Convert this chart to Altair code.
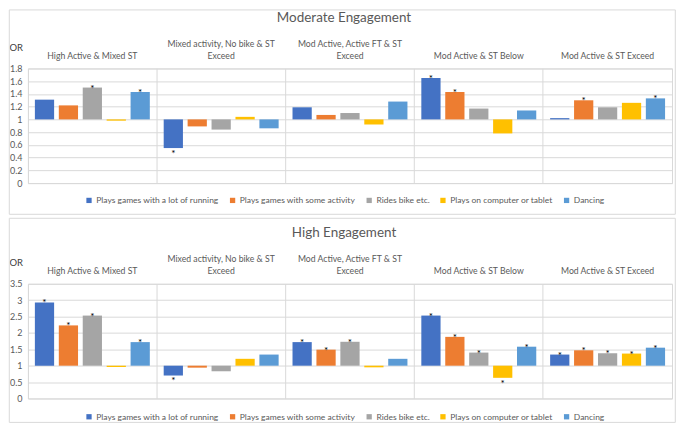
import altair as alt
import pandas as pd

groups = ["High Active & Mixed ST", "Mixed activity, No bike & ST|Exceed",
          "Mod Active, Active FT & ST|Exceed", "Mod Active & ST Below", "Mod Active & ST Exceed"]
series = ["Plays games with a lot of running", "Plays games with some activity",
          "Rides bike etc.", "Plays on computer or tablet", "Dancing"]
colors = ["#4472C4", "#ED7D31", "#A5A5A5", "#FFC000", "#5B9BD5"]

mod_or = [[1.31, 1.22, 1.50, 0.98, 1.43],
          [0.55, 0.89, 0.84, 1.04, 0.86],
          [1.19, 1.07, 1.10, 0.92, 1.28],
          [1.65, 1.43, 1.17, 0.78, 1.14],
          [1.02, 1.30, 1.19, 1.26, 1.33]]
mod_sig = [[0, 0, 1, 0, 1],
           [1, 0, 0, 0, 0],
           [0, 0, 0, 0, 0],
           [1, 1, 0, 0, 0],
           [0, 1, 0, 0, 1]]
high_or = [[2.93, 2.23, 2.53, 0.96, 1.72],
           [0.70, 0.94, 0.83, 1.21, 1.34],
           [1.72, 1.49, 1.73, 0.95, 1.21],
           [2.53, 1.88, 1.40, 0.63, 1.58],
           [1.34, 1.47, 1.38, 1.37, 1.55]]
high_sig = [[1, 1, 1, 0, 1],
            [1, 0, 0, 0, 0],
            [1, 1, 1, 0, 0],
            [1, 1, 1, 1, 1],
            [1, 1, 1, 1, 1]]
mod_ticks = [0, 0.2, 0.4, 0.6, 0.8, 1, 1.2, 1.4, 1.6, 1.8]
high_ticks = [0, 0.5, 1, 1.5, 2, 2.5, 3, 3.5]

FONT = "Lato"
TXT = "#595959"
GRID = "#d9d9d9"
W, H = 646, 115


def panel(title, ors, sig, ticks, ymax, frame_top, frame_bottom, legend_y):
    rows = []
    for g, vals, ss in zip(groups, ors, sig):
        for s, v, k in zip(series, vals, ss):
            rows.append(dict(group=g, series=s, OR=v, base=1.0, sig=k))
    df = pd.DataFrame(rows)
    base = alt.Chart(df)

    x = alt.X("group:N", sort=groups,
              scale=alt.Scale(paddingInner=0, paddingOuter=0),
              axis=alt.Axis(orient="top", title=None,
                            labelExpr="indexof(datum.value, '|') < 0 ? [' ', datum.value] : split(datum.value, '|')",
                            labelAngle=0, ticks=False, domain=False, grid=True, bandPosition=0,
                            gridColor=GRID, labelFont=FONT, labelFontSize=8.7, labelColor=TXT,
                            labelPadding=20, labelLineHeight=12, labelBaseline="bottom"))
    xo = alt.XOffset("series:N", sort=series,
                     scale=alt.Scale(paddingInner=0.196, paddingOuter=0.29))
    y = alt.Y("OR:Q", scale=alt.Scale(domain=[0, ymax], nice=False, zero=True),
              axis=alt.Axis(values=ticks, tickCount=len(ticks) + 2, format=".1~f", title="OR",
                            titleAngle=0, titleX=-19, titleY=-21, titleAlign="left",
                            titleBaseline="middle", titleFont=FONT, titleFontSize=9.5,
                            titleFontWeight="normal", titleColor="#404040", labelFont=FONT,
                            labelFontSize=9, labelColor=TXT, labelPadding=6, labelOverlap=False,
                            ticks=False, domain=False, gridColor=GRID, grid=True))

    bars = base.mark_bar().encode(
        x=x, xOffset=xo, y=y, y2=alt.Y2("base:Q"),
        color=alt.Color("series:N", sort=series,
                        scale=alt.Scale(domain=series, range=colors),
                        legend=alt.Legend(title=None, orient="none", legendX=57, legendY=legend_y,
                                          direction="horizontal", symbolType="square",
                                          symbolSize=28, symbolStrokeWidth=0, labelFont=FONT,
                                          labelFontSize=8.5, labelColor=TXT, columnPadding=9,
                                          labelOffset=3, padding=0)))
    up = base.transform_filter("datum.sig == 1 && datum.OR > 1").mark_text(
        text="*", dy=4, baseline="alphabetic", fontSize=10, font=FONT, color="#000000"
    ).encode(x=x, xOffset=xo, y=alt.Y("OR:Q"))
    dn = base.transform_filter("datum.sig == 1 && datum.OR < 1").mark_text(
        text="*", dy=9, baseline="alphabetic", fontSize=10, font=FONT, color="#000000"
    ).encode(x=x, xOffset=xo, y=alt.Y("OR:Q"))

    ttl = alt.Chart(pd.DataFrame({"t": [title]})).mark_text(
        font=FONT, fontSize=13.5, color=TXT, baseline="middle", align="center"
    ).encode(x=alt.value(W / 2 - 6), y=alt.value(-50.5), text="t:N")

    frame = alt.Chart(pd.DataFrame({"a": [0]})).mark_rect(
        fillOpacity=0, stroke=GRID, strokeWidth=1
    ).encode(x=alt.value(-18.7), x2=alt.value(649.3),
             y=alt.value(frame_top), y2=alt.value(frame_bottom))

    return alt.layer(frame, bars, up, dn, ttl).properties(width=W, height=H)


top = panel("Moderate Engagement", mod_or, mod_sig, mod_ticks, 1.8, -58.7, 146.3, 128)
bottom = panel("High Engagement", high_or, high_sig, high_ticks, 3.5, -65.7, 139, 129)

chart = alt.vconcat(top, bottom, spacing=1).resolve_scale(
    color="independent", y="independent", x="independent", xOffset="independent"
).resolve_legend(color="independent").configure_view(stroke=GRID).properties(padding=0)

chart.save("out.html", embed_options={"renderer": "svg", "actions": False})
